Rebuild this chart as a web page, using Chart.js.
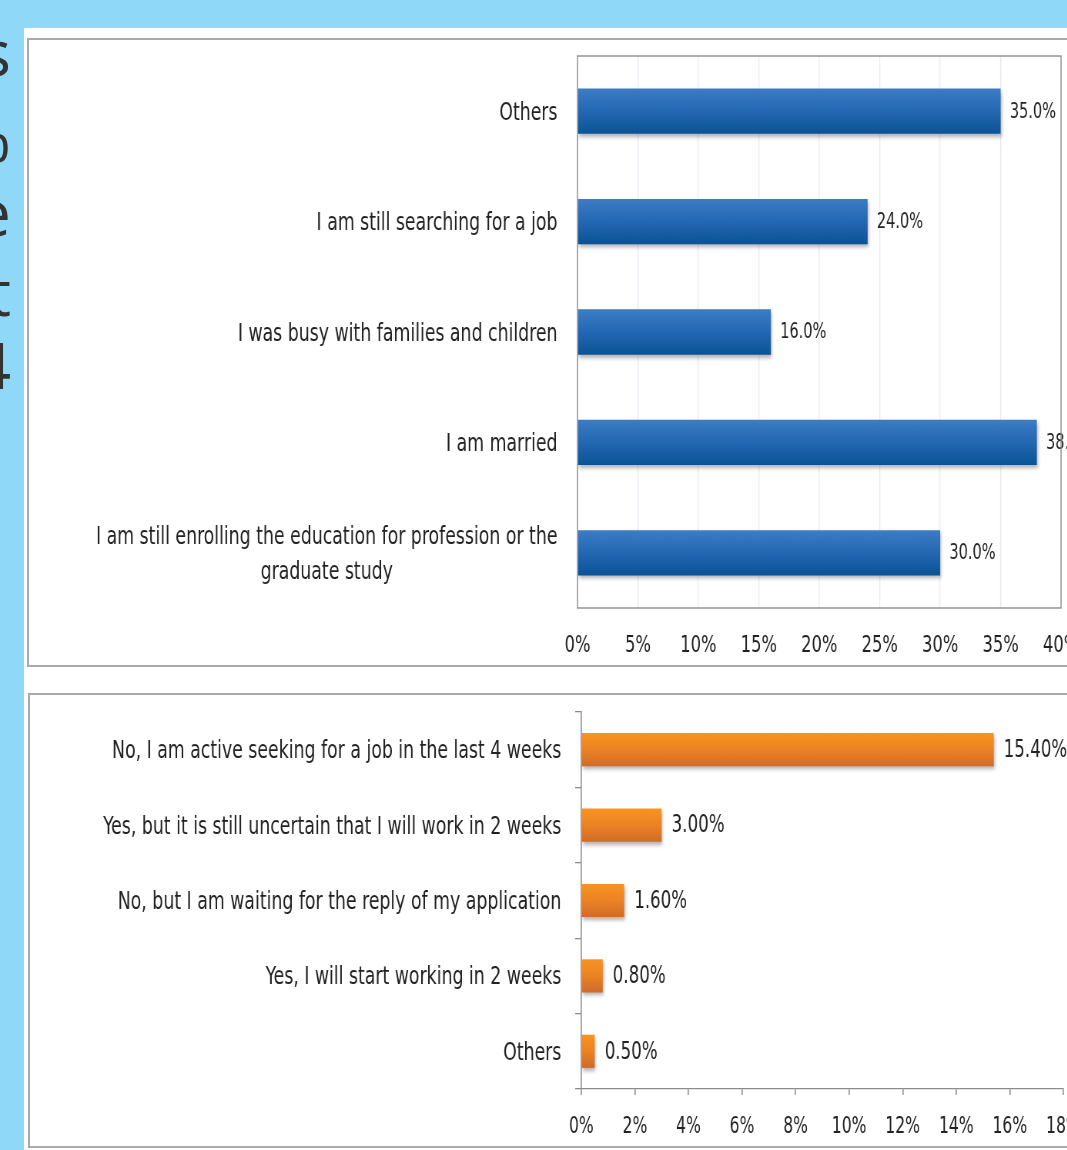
<!DOCTYPE html>
<html>
<head>
<meta charset="utf-8">
<script src="https://cdn.jsdelivr.net/npm/chart.js@4.4.0/dist/chart.umd.min.js"></script>
<style>
  html, body { margin: 0; padding: 0; }
  body { width: 1067px; height: 1150px; overflow: hidden; position: relative; background: #8fd8f7; font-family: 'Open Sans', sans-serif; }
  #slide { position: absolute; left: 24px; top: 28px; width: 1100px; height: 1200px; background: #fff; }
  .panel { position: absolute; background: #fff; border: 2px solid #a9a9a9; box-sizing: border-box; }
  #p1 { left: 27px; top: 38px; width: 1100px; height: 629px; }
  #p2 { left: 28px; top: 693px; width: 1100px; height: 455px; }
  .big { position: absolute; left: -190px; width: 201px; text-align: right; font-size: 64px; line-height: 64px; color: #333; }
  /* the source picture is squeezed sideways, so are the charts */
  canvas { position: absolute; transform: scaleX(0.77); transform-origin: 0 0; }
</style>
</head>
<body>
<div class="big" style="top:20px">s</div>
<div class="big" style="top:106px">%</div>
<div class="big" style="top:180px">e</div>
<div class="big" style="top:260px">t</div>
<div class="big" style="top:333px">4</div>
<div id="slide"></div>
<div class="panel" id="p1"></div>
<div class="panel" id="p2"></div>
<canvas id="topChart" width="1430" height="622" style="left:30px; top:40px;"></canvas>
<canvas id="bottomChart" width="1430" height="450" style="left:30px; top:696px;"></canvas>
<script>
// reasons (top chart)
const topLabels = [
    'Others',
    'I am still searching for a job',
    'I was busy with families and children',
    'I am married',
    ['I am still enrolling the education for profession or the', 'graduate study']
];
const topValues = [35.0, 24.0, 16.0, 38.0, 30.0];
const topTickMax = 40;
const topTickStep = 5;

// job seeking status (bottom chart)
const bottomLabels = [
    'No, I am active seeking for a job in the last 4 weeks',
    'Yes, but it is still uncertain that I will work in 2 weeks',
    'No, but I am waiting for the reply of my application',
    'Yes, I will start working in 2 weeks',
    'Others'
];
const bottomValues = [15.4, 3.0, 1.6, 0.8, 0.5];
const bottomTickMax = 18;
const bottomTickStep = 2;

const narrow = "'Liberation Sans Narrow', 'DejaVu Sans Condensed', 'Arial Narrow', sans-serif";
Chart.defaults.font.family = narrow;
Chart.defaults.color = '#222';

function barGradient(colors, barPct) {
    return function (ctx) {
        const chart = ctx.chart;
        const area = chart.chartArea;
        const yScale = chart.scales.y;
        if (!area || !yScale || ctx.type !== 'data') return colors[1];
        const band = (area.bottom - area.top) / chart.data.labels.length;
        const c = yScale.getPixelForValue(ctx.dataIndex);
        const h = band * barPct;
        const g = chart.ctx.createLinearGradient(0, c - h / 2, 0, c + h / 2);
        g.addColorStop(0, colors[0]);
        g.addColorStop(0.5, colors[1]);
        g.addColorStop(1, colors[2]);
        return g;
    };
}

// soft shadow under the bars
const barShadow = {
    id: 'barShadow',
    beforeDatasetDraw(chart) {
        const ctx = chart.ctx;
        ctx.save();
        ctx.shadowColor = 'rgba(0,0,0,0.3)';
        ctx.shadowBlur = 4;
        ctx.shadowOffsetX = 1;
        ctx.shadowOffsetY = 3;
    },
    afterDatasetDraw(chart) {
        chart.ctx.restore();
    }
};

// category names, right aligned, multi-line blocks centred on themselves
const categoryLabels = {
    id: 'categoryLabels',
    afterDraw(chart, args, opts) {
        const ctx = chart.ctx;
        const yScale = chart.scales.y;
        ctx.save();
        ctx.font = opts.size + 'px ' + narrow;
        ctx.fillStyle = '#222';
        ctx.textAlign = 'center';
        ctx.textBaseline = 'middle';
        chart.data.labels.forEach(function (label, i) {
            const lines = Array.isArray(label) ? label : [label];
            const widest = Math.max.apply(null, lines.map(l => ctx.measureText(l).width));
            const cx = yScale.right - opts.gap - widest / 2;
            const cy = yScale.getPixelForValue(i) + opts.dy;
            const y0 = cy - (lines.length - 1) * opts.lineHeight / 2;
            lines.forEach(function (l, k) {
                ctx.fillText(l, cx, y0 + k * opts.lineHeight);
            });
        });
        ctx.restore();
    }
};

const valueLabels = {
    id: 'valueLabels',
    afterDatasetsDraw(chart, args, opts) {
        const ctx = chart.ctx;
        const meta = chart.getDatasetMeta(0);
        const data = chart.data.datasets[0].data;
        ctx.save();
        ctx.font = opts.size + 'px ' + narrow;
        ctx.fillStyle = '#222';
        ctx.textAlign = 'left';
        ctx.textBaseline = 'middle';
        meta.data.forEach(function (bar, i) {
            ctx.fillText(data[i].toFixed(opts.decimals) + '%', bar.x + opts.offset, bar.y + 1);
        });
        ctx.restore();
    }
};

const plotFrame = {
    id: 'plotFrame',
    afterDraw(chart, args, opts) {
        if (!opts.show) return;
        const a = chart.chartArea;
        const ctx = chart.ctx;
        ctx.save();
        ctx.strokeStyle = '#8c8c8c';
        ctx.lineWidth = 1.4;
        ctx.strokeRect(a.left, a.top, a.right - a.left, a.bottom - a.top);
        ctx.restore();
    }
};

const topPct = 0.41;
new Chart(document.getElementById('topChart'), {
    type: 'bar',
    data: {
        labels: topLabels,
        datasets: [{
            data: topValues,
            backgroundColor: barGradient(['#3c7dc4', '#2467b2', '#0a5397'], topPct),
            borderWidth: 0,
            categoryPercentage: 1,
            barPercentage: topPct
        }]
    },
    options: {
        indexAxis: 'y',
        responsive: false,
        animation: false,
        layout: { padding: { top: 16, right: 91, left: 0, bottom: 0 } },
        scales: {
            x: {
                min: 0,
                max: topTickMax,
                grid: { color: '#e4e9f3', lineWidth: 1.3, drawTicks: false },
                border: { display: false },
                ticks: {
                    stepSize: topTickStep,
                    padding: 24,
                    font: { size: 23.5 },
                    callback: v => v + '%'
                },
                afterFit: s => { s.height = 54; }
            },
            y: {
                grid: { display: false },
                border: { display: false },
                ticks: { display: false },
                afterFit: s => { s.width = 711; }
            }
        },
        plugins: {
            legend: { display: false },
            tooltip: { enabled: false },
            categoryLabels: { size: 25, gap: 26, lineHeight: 35, dy: 2 },
            valueLabels: { size: 21, offset: 12, decimals: 1 },
            plotFrame: { show: true }
        }
    },
    plugins: [barShadow, categoryLabels, valueLabels, plotFrame]
});

const bottomPct = 0.44;
new Chart(document.getElementById('bottomChart'), {
    type: 'bar',
    data: {
        labels: bottomLabels,
        datasets: [{
            data: bottomValues,
            backgroundColor: barGradient(['#f89420', '#ec8224', '#cf6b2a'], bottomPct),
            borderWidth: 0,
            categoryPercentage: 1,
            barPercentage: bottomPct
        }]
    },
    options: {
        indexAxis: 'y',
        responsive: false,
        animation: false,
        layout: { padding: { top: 16, right: 88, left: 0, bottom: 0 } },
        scales: {
            x: {
                min: 0,
                max: bottomTickMax,
                grid: { drawOnChartArea: false, tickLength: 6, color: '#8c8c8c', lineWidth: 1.6 },
                border: { color: '#8c8c8c', width: 1.3 },
                ticks: {
                    stepSize: bottomTickStep,
                    padding: 19,
                    font: { size: 22.5 },
                    callback: v => v + '%'
                },
                afterFit: s => { s.height = 57; }
            },
            y: {
                grid: { drawOnChartArea: false, offset: true, tickLength: 8, color: '#8c8c8c', lineWidth: 1.3 },
                border: { color: '#8c8c8c', width: 1.6 },
                ticks: { display: false },
                afterFit: s => { s.width = 716; }
            }
        },
        plugins: {
            legend: { display: false },
            tooltip: { enabled: false },
            categoryLabels: { size: 25, gap: 26, lineHeight: 35, dy: 2 },
            valueLabels: { size: 24, offset: 13, decimals: 2 },
            plotFrame: { show: false }
        }
    },
    plugins: [barShadow, categoryLabels, valueLabels, plotFrame]
});
</script>
</body>
</html>
